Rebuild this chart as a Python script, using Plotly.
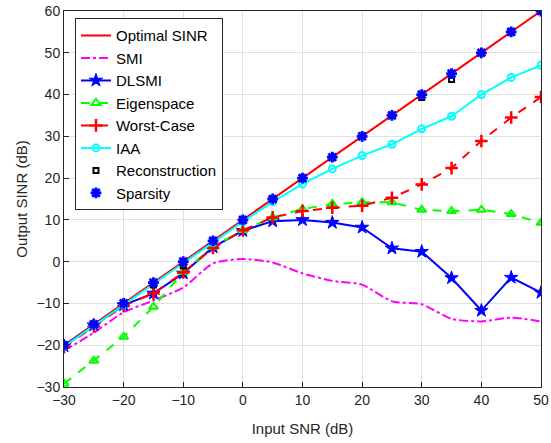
import plotly.graph_objects as go

snr = [-30, -25, -20, -15, -10, -5, 0, 5, 10, 15, 20, 25, 30, 35, 40, 45, 50]

optimal = [-20, -15, -10, -5, 0, 5, 10, 15, 20, 25, 30, 35, 40, 45, 50, 55, 60]
smi = [-21.3, -17.0, -12.1, -9.3, -6.2, -0.4, 0.65, -0.2, -2.8, -4.6, -5.5, -9.5, -10.2, -13.7, -14.3, -13.4, -14.3]
dlsmi = [-20.2, -15.2, -10.4, -7.6, -2.8, 3.5, 7.4, 9.7, 10.0, 9.35, 8.2, 3.2, 2.4, -3.9, -11.7, -3.8, -7.4]
eigen = [-29.2, -23.7, -18.0, -10.8, -2.5, 3.6, 7.5, 10.6, 12.6, 13.8, 14.2, 14.2, 12.4, 12.1, 12.4, 11.4, 9.3]
worst = [-20.5, -15.5, -10.6, -7.6, -2.6, 3.3, 7.5, 10.6, 12.1, 12.9, 13.4, 15.3, 18.5, 22.4, 28.9, 34.5, 39.4]
iaa = [-20.3, -15.3, -10.3, -5.3, -0.5, 4.6, 9.6, 14.3, 18.6, 22.2, 25.4, 28.1, 31.8, 34.8, 40.0, 44.1, 47.0]
recon = [-20, -15, -10, -5.6, -1.0, 5, 10, 15, 20, 25, 30, 35, 39.3, 43.6, 50, 55, 60]
sparsity = [-20, -15, -10, -5, 0, 5, 10, 15, 20, 25, 30, 35, 40, 45, 50, 55, 60]

x_ticks = [-30, -20, -10, 0, 10, 20, 30, 40, 50]
y_ticks = [-30, -20, -10, 0, 10, 20, 30, 40, 50, 60]

FONT = "Liberation Sans, Arial"

fig = go.Figure()
fig.add_trace(go.Scatter(x=snr, y=optimal, name="Optimal SINR", mode="lines",
                         line=dict(color="#FF0000", width=2)))
fig.add_trace(go.Scatter(x=snr, y=smi, name="SMI", mode="lines",
                         line=dict(color="#FF00FF", width=2, dash="dashdot", shape="spline", smoothing=0.6)))
fig.add_trace(go.Scatter(x=snr, y=dlsmi, name="DLSMI", mode="lines+markers",
                         line=dict(color="#0000FF", width=2),
                         marker=dict(symbol="star", size=10, color="#0000FF",
                                     line=dict(color="#0000FF", width=1))))
fig.add_trace(go.Scatter(x=snr, y=eigen, name="Eigenspace", mode="lines+markers",
                         line=dict(color="#00FF00", width=2, dash="dash"),
                         marker=dict(symbol="triangle-up-open", size=8, color="#00FF00",
                                     line=dict(color="#00FF00", width=2))))
fig.add_trace(go.Scatter(x=snr, y=worst, name="Worst-Case", mode="lines+markers",
                         line=dict(color="#FF0000", width=2, dash="dash"),
                         marker=dict(symbol="cross-thin-open", size=9, color="#FF0000",
                                     line=dict(color="#FF0000", width=2.5))))
fig.add_trace(go.Scatter(x=snr, y=iaa, name="IAA", mode="lines+markers",
                         line=dict(color="#00FFFF", width=2),
                         marker=dict(symbol="circle-open", size=7, color="#00FFFF",
                                     line=dict(color="#00FFFF", width=2))))
fig.add_trace(go.Scatter(x=snr, y=recon, name="Reconstruction", mode="markers",
                         marker=dict(symbol="square-open", size=5, color="#000000",
                                     line=dict(color="#000000", width=2))))
fig.add_trace(go.Scatter(x=snr, y=sparsity, name="Sparsity", mode="markers",
                         marker=dict(symbol="asterisk-open", size=9, color="#0000FF",
                                     line=dict(color="#0000FF", width=2.8))))

axis_common = dict(
    showgrid=True, gridcolor="#E0E0E0", gridwidth=1,
    showline=True, linecolor="#262626", linewidth=1, mirror=True,
    ticks="inside", ticklen=5, tickcolor="#262626",
    tickfont=dict(family=FONT, size=14, color="#262626"),
    zeroline=False, automargin=False,
)
fig.update_xaxes(range=[-30, 50], tickvals=x_ticks,
                 title=dict(text="Input SNR (dB)", font=dict(family=FONT, size=15, color="#262626"), standoff=16),
                 **axis_common)
fig.update_yaxes(range=[-30, 60], tickvals=y_ticks,
                 title=dict(text="Output SINR (dB)", font=dict(family=FONT, size=15, color="#262626"), standoff=5),
                 **axis_common)

fig.update_layout(
    width=551, height=443,
    margin=dict(l=64, r=10, t=11, b=56),
    paper_bgcolor="white", plot_bgcolor="white",
    font=dict(family=FONT, color="#000000"),
    legend=dict(x=0.023, y=0.981, xanchor="left", yanchor="top",
                bgcolor="white", bordercolor="#262626", borderwidth=1,
                font=dict(family=FONT, size=15, color="#000000"),
                tracegroupgap=0, itemwidth=30),
    showlegend=True,
)

fig.write_html("out.html")
